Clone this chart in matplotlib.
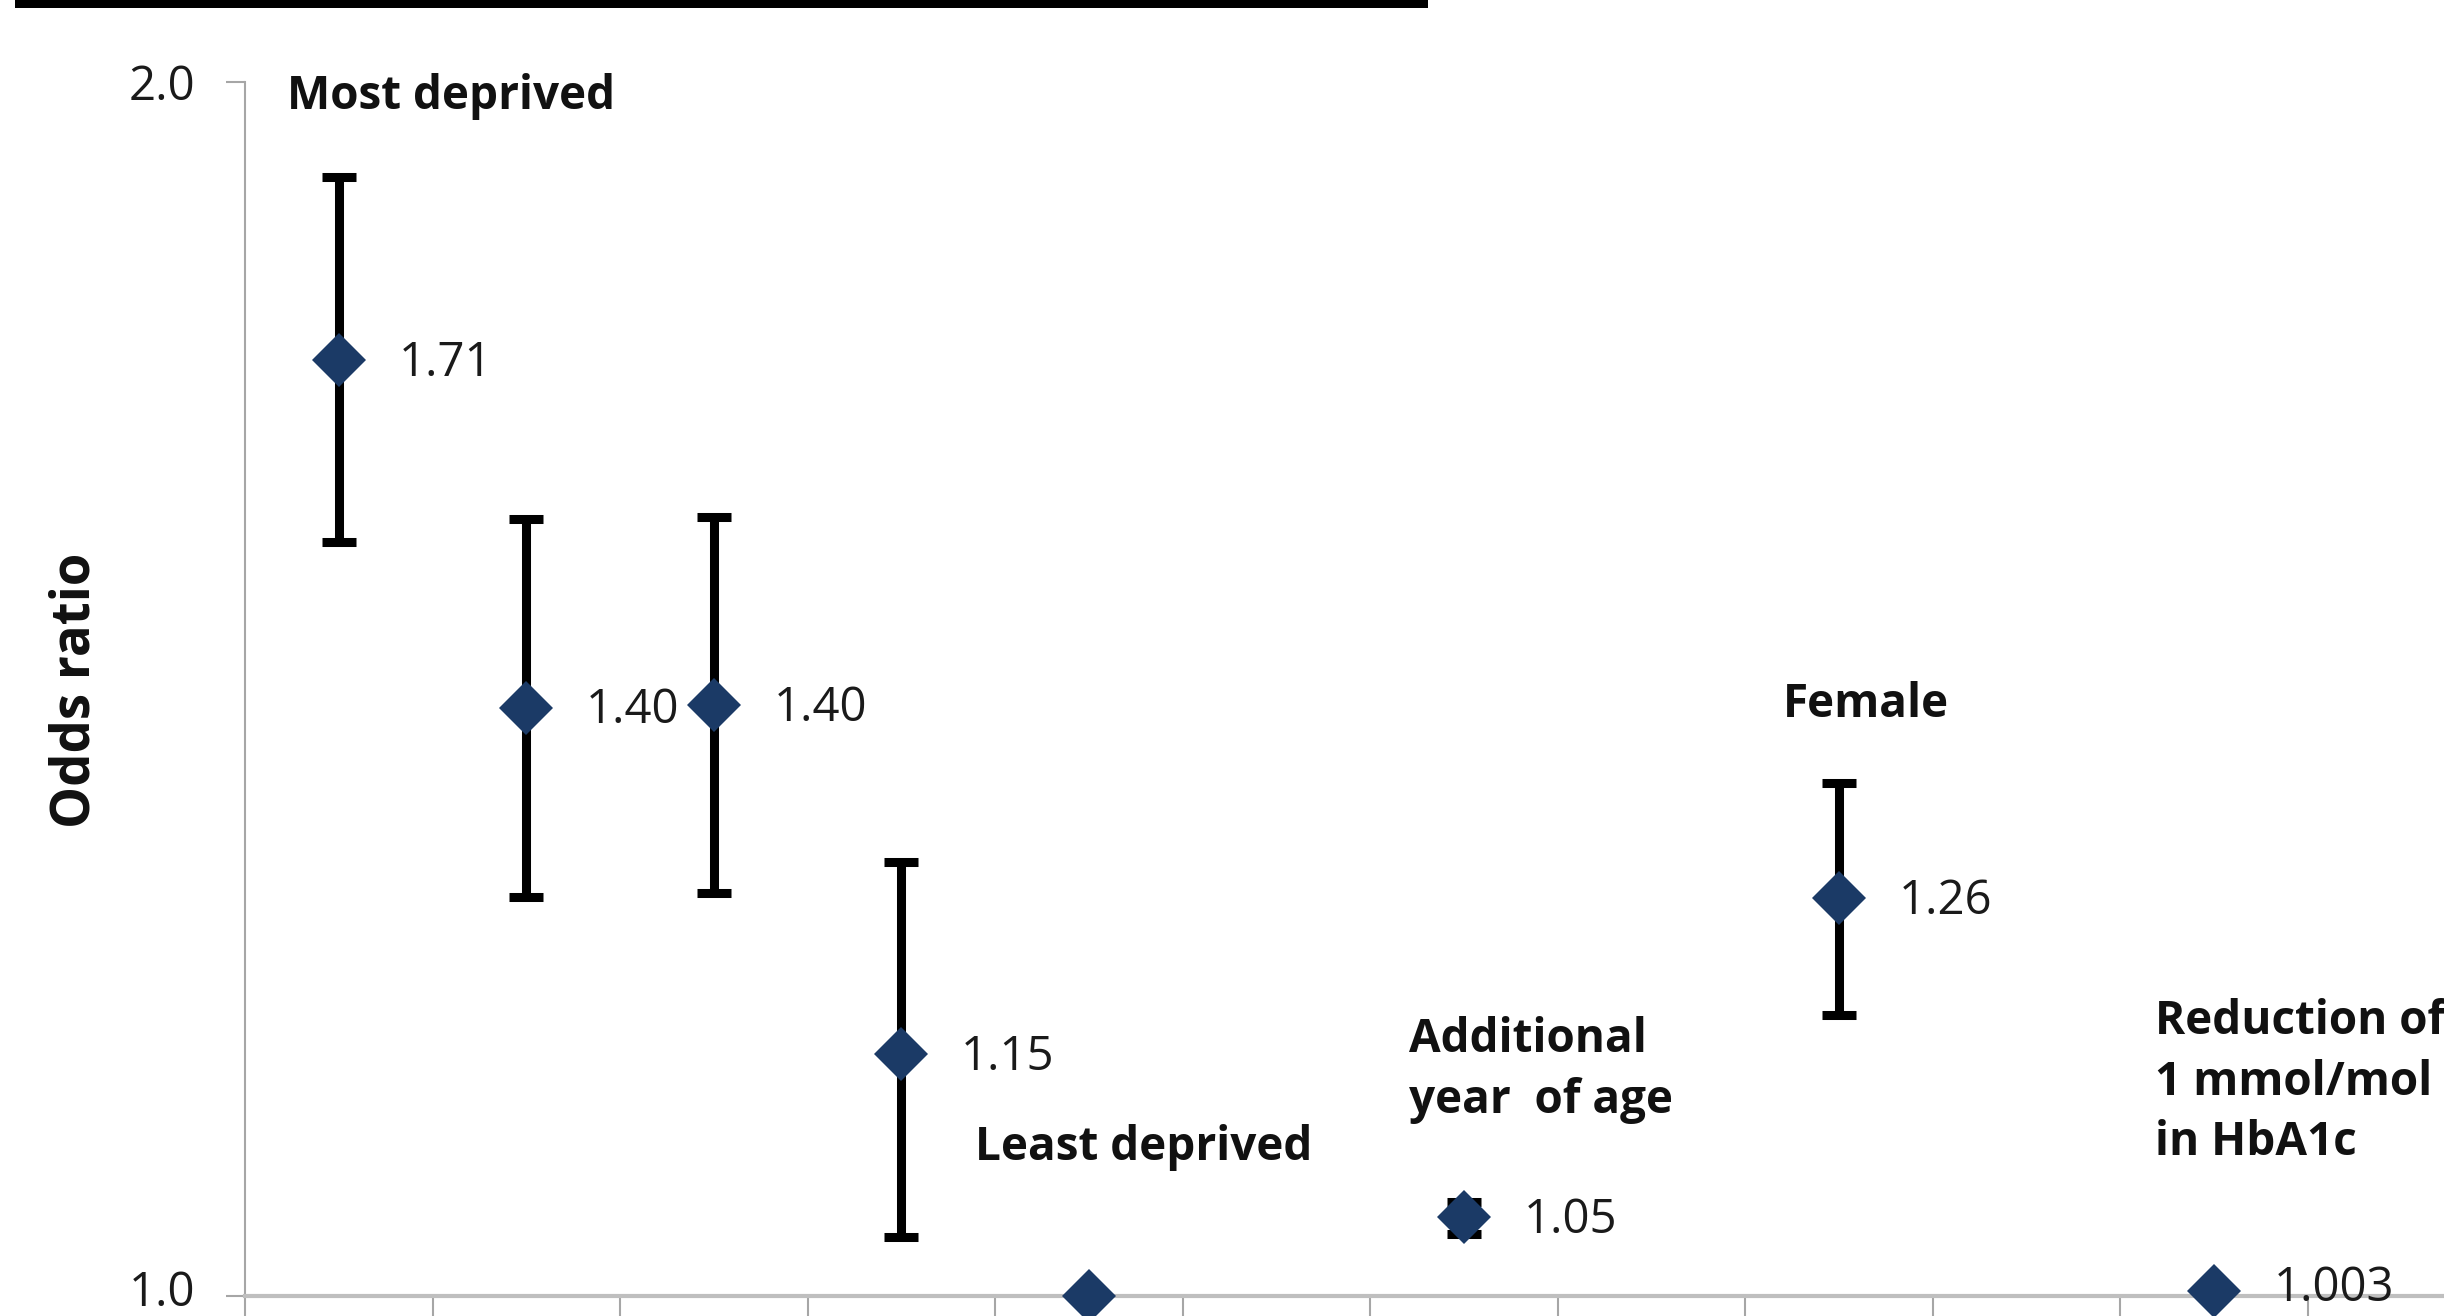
import numpy as np
import matplotlib
matplotlib.use("Agg")
import matplotlib.pyplot as plt
from matplotlib.patches import Rectangle
from matplotlib.ticker import NullLocator
from matplotlib.transforms import ScaledTranslation

# ============================
# DATA
# ============================
groups = ["Most deprived", "Quintile 2", "Quintile 3", "Quintile 4",
          "Least deprived", "Additional\nyear  of age", "Female",
          "Reduction of\n1 mmol/mol\nin HbA1c"]
slot = [0, 1, 2, 3, 4, 6, 8, 10]          # category slot on the x axis
odds = [1.706, 1.399, 1.401, 1.148, 1.000, 1.046, 1.255, 1.003]
ci_low = [1.538, 1.256, 1.259, 1.034, None, 1.036, 1.174, None]
ci_high = [1.894, 1.558, 1.560, 1.281, None, 1.055, 1.340, None]
value_labels = ["1.71", "1.40", "1.40", "1.15", "", "1.05", "1.26", "1.003"]

# group captions: (text, left x in slot units, top y in odds-ratio units)
captions = [
    ("Most deprived", -0.276, 2.010),
    ("Least deprived", 3.393, 1.1031),
    ("Additional\nyear  of age", 5.708, 1.1734),
    ("Female", 7.703, 1.4208),
    ("Reduction of\n1 mmol/mol\nin HbA1c", 9.687, 1.1856),
]

NAVY = "#1B3A66"
GREY = "#A6A6A6"

plt.rcParams["font.family"] = "Open Sans"

W, H = 2444, 1316
fig = plt.figure(figsize=(W / 100, H / 100), dpi=100)
ax = fig.add_axes([245 / W, 20 / H, (W - 245) / W, 1214 / H])

# black rule at the top (part of the page)
fig.add_artist(Rectangle((15 / W, 1 - 8 / H), 1413 / W, 8 / H,
                         transform=fig.transFigure, color="black", lw=0))

# ============================
# ERROR BARS + POINTS
# ============================
has_ci = [i for i in range(len(odds)) if ci_low[i] is not None]
xs = [slot[i] for i in has_ci]
ys = [odds[i] for i in has_ci]
lo = [odds[i] - ci_low[i] for i in has_ci]
hi = [ci_high[i] - odds[i] for i in has_ci]
ax.errorbar(xs, ys, yerr=[lo, hi], fmt="none", ecolor="black",
            elinewidth=6.5, capsize=12, capthick=6.5, zorder=3, clip_on=False)

ax.plot(slot, odds, "D", ms=28, mew=0, color=NAVY, zorder=4, clip_on=False)

for x, v, lbl in zip(slot, odds, value_labels):
    if not lbl:
        continue
    # keep the label on the axis line inside the picture
    dy = 2 if v < 1.01 else -2
    ax.annotate(lbl, (x, v), xytext=(43, dy), textcoords="offset points",
                ha="left", va="center", fontsize=34,
                color="#1a1a1a", zorder=5, annotation_clip=False)

for txt, x, y in captions:
    ax.text(x, y, txt, ha="left", va="top", fontsize=33, fontweight="bold",
            linespacing=1.38, color="#111111")

# ============================
# AXES
# ============================
ax.set_yscale("log", base=2)
ax.set_ylim(1, 2)
ax.set_yticks([1, 2])
ax.set_yticklabels(["1.0", "2.0"])
ax.yaxis.set_minor_locator(NullLocator())
ax.set_xlim(-0.5, -0.5 + (W - 245) / 187.5)
ax.set_xticks(np.arange(-0.5, 11.5, 1))
ax.set_xticklabels([])

for s in ["top", "right"]:
    ax.spines[s].set_visible(False)
ax.spines["left"].set_color(GREY)
ax.spines["left"].set_linewidth(1.5)
ax.spines["bottom"].set_color("#BFBFBF")
ax.spines["bottom"].set_linewidth(3)

ax.tick_params(axis="y", length=14, width=1.5, color=GREY, pad=22,
               labelsize=34, labelcolor="#1a1a1a")
ax.tick_params(axis="x", length=16, width=1.5, color=GREY, direction="out")

# nudge the "1.0" label up a little so it stays inside the picture
low_lab = ax.get_yticklabels()[0]
low_lab.set_transform(low_lab.get_transform()
                      + ScaledTranslation(0, 8 / 100, fig.dpi_scale_trans))

fig.text(75 / W, 1 - 690 / H, "Odds ratio", rotation=90, ha="center",
         va="center", fontsize=38, fontweight="bold", color="#111111")

fig.savefig("out.png", dpi=100)
